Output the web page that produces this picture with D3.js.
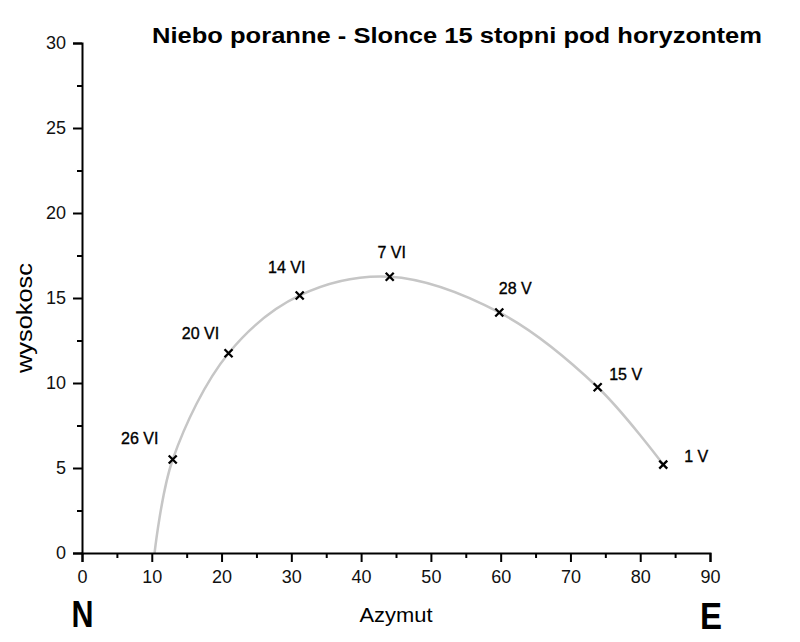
<!DOCTYPE html>
<html><head><meta charset="utf-8">
<script src="https://cdn.jsdelivr.net/npm/d3@7"></script>
<style>body{margin:0;background:#fff}svg{display:block}text{font-family:Arial,"Liberation Sans",sans-serif}</style>
</head><body><svg id="c" width="800" height="642"></svg>
<script>
// data
const dates = ["26 VI","20 VI","14 VI","7 VI","28 V","15 V","1 V"];
const azimuth = [13.0, 21.0, 31.2, 44.1, 59.8, 73.9, 83.3];
const altitude = [5.5, 11.75, 15.15, 16.25, 14.15, 9.75, 5.2];
// curve: starts at horizon crossing, then passes through the dated points
const curveAz = [10.4, 13.0, 21.0, 31.2, 44.1, 59.8, 73.9, 83.3];
const curveAlt = [0, 5.5, 11.75, 15.15, 16.25, 14.15, 9.75, 5.2];
const xTicks = [0,10,20,30,40,50,60,70,80,90];
const yTicks = [0,5,10,15,20,25,30];
const title = "Niebo poranne - Slonce 15 stopni pod horyzontem";
// layout (pixel offsets of the date labels)
const labelDx = [-33,-28,-13,2,16,28,33];
const labelDy = [-16,-14,-22,-19,-18,-7,-3];

const svg = d3.select("#c");
const x = d3.scaleLinear().domain([0,90]).range([82,710]);
const y = d3.scaleLinear().domain([0,30]).range([553,43]);

// curve
const line = d3.line().x(d=>x(d[0])).y(d=>y(d[1])).curve(d3.curveCatmullRom.alpha(0.5));
svg.append("path").datum(curveAz.map((a,i)=>[a,curveAlt[i]]))
  .attr("d", line).attr("fill","none").attr("stroke","#c6c6c6").attr("stroke-width",2.5);

// axes
const xMinor = d3.range(5,90,10), yMinor = d3.range(2.5,30,5);
const gx = svg.append("g").attr("transform","translate(0,553)");
gx.call(d3.axisBottom(x).tickValues(xTicks).tickSize(9).tickPadding(8).tickFormat(d3.format("d")));
gx.append("g").call(d3.axisBottom(x).tickValues(xMinor).tickSize(5).tickFormat(""));
const gy = svg.append("g").attr("transform","translate(82,0)");
gy.call(d3.axisLeft(y).tickValues(yTicks).tickSize(9).tickPadding(7).tickFormat(d3.format("d")));
gy.append("g").call(d3.axisLeft(y).tickValues(yMinor).tickSize(5).tickFormat(""));
svg.selectAll(".domain").attr("stroke","#000").attr("stroke-width",2);
svg.selectAll(".tick line").attr("stroke","#000").attr("stroke-width",2);
svg.selectAll(".tick text").attr("font-size",18).attr("fill","#111").attr("font-family","Arial, 'Liberation Sans', sans-serif");
svg.selectAll("g g .domain").remove();

// markers
const s = 4;
const mk = svg.append("g");
azimuth.forEach((a,i)=>{
  const cx = x(a), cy = y(altitude[i]);
  mk.append("path").attr("d",`M${cx-s},${cy-s}L${cx+s},${cy+s}M${cx-s},${cy+s}L${cx+s},${cy-s}`)
    .attr("stroke","#000").attr("stroke-width",2.3);
  mk.append("text").attr("x",cx+labelDx[i]).attr("y",cy+labelDy[i]).attr("text-anchor","middle")
    .attr("font-size",16).attr("fill","#000").attr("stroke","#000").attr("stroke-width",0.35).text(dates[i]);
});

// titles
svg.append("text").attr("x",457).attr("y",43).attr("text-anchor","middle").attr("font-size",21.5)
  .attr("font-weight","bold").attr("textLength",610).attr("lengthAdjust","spacingAndGlyphs").text(title);
svg.append("text").attr("transform","translate(32,318) rotate(-90)").attr("text-anchor","middle")
  .attr("font-size",22).attr("textLength",110).attr("lengthAdjust","spacingAndGlyphs").text("wysokosc");
svg.append("text").attr("x",396).attr("y",622).attr("text-anchor","middle").attr("font-size",20)
  .attr("textLength",73).attr("lengthAdjust","spacingAndGlyphs").text("Azymut");
svg.append("text").attr("x",82.5).attr("y",627).attr("text-anchor","middle").attr("font-size",37).attr("font-weight","bold")
  .attr("textLength",22).attr("lengthAdjust","spacingAndGlyphs").text("N");
svg.append("text").attr("x",711).attr("y",629).attr("text-anchor","middle").attr("font-size",37).attr("font-weight","bold")
  .attr("textLength",22).attr("lengthAdjust","spacingAndGlyphs").text("E");
</script></body></html>
